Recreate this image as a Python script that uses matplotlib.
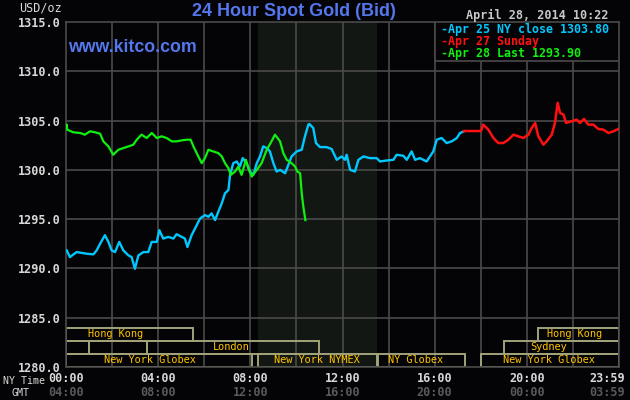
import matplotlib
matplotlib.use('Agg')
import matplotlib.pyplot as plt
from matplotlib.patches import Rectangle
import matplotlib.transforms as mtransforms

# ---------------- data ----------------
# Apr 25 (NY close 1303.80) - hours since 00:00 NY time and price
apr25_hours = [0.03, 0.17, 0.46, 0.90, 1.19, 1.33, 1.48, 1.69, 1.84, 1.98, 2.13, 2.31, 2.49,
               2.71, 2.85, 2.99, 3.14, 3.36, 3.57, 3.72, 3.94, 4.05, 4.22, 4.44, 4.66, 4.80,
               5.02, 5.16, 5.27, 5.45, 5.60, 5.82, 6.03, 6.18, 6.32, 6.47, 6.61, 6.76, 6.90,
               7.05, 7.12, 7.26, 7.41, 7.55, 7.67, 7.84, 7.99, 8.13, 8.28, 8.42, 8.56, 8.71,
               8.85, 9.00, 9.14, 9.29, 9.51, 9.65, 9.79, 10.01, 10.23, 10.37, 10.52, 10.56,
               10.73, 10.85, 11.02, 11.31, 11.53, 11.75, 11.96, 12.11, 12.18, 12.33, 12.54,
               12.69, 12.91, 13.19, 13.48, 13.63, 13.92, 14.21, 14.35, 14.64, 14.79, 15.00,
               15.15, 15.36, 15.65, 15.94, 16.09, 16.30, 16.52, 16.74, 16.96, 17.10, 17.27]
apr25_price = [1291.83, 1291.15, 1291.66, 1291.49, 1291.43, 1291.83, 1292.51, 1293.37, 1292.69,
               1291.83, 1291.66, 1292.69, 1291.83, 1291.32, 1291.15, 1289.96, 1291.32, 1291.66,
               1291.66, 1292.69, 1292.69, 1293.88, 1293.03, 1293.20, 1293.03, 1293.47, 1293.20,
               1293.03, 1292.17, 1293.37, 1294.05, 1295.07, 1295.41, 1295.24, 1295.58, 1294.90,
               1295.75, 1296.60, 1297.62, 1297.96, 1299.49, 1300.68, 1300.85, 1300.34, 1301.19,
               1300.68, 1299.83, 1299.49, 1300.68, 1301.36, 1302.38, 1302.21, 1301.87, 1300.68,
               1299.83, 1300.00, 1299.66, 1300.51, 1301.36, 1301.87, 1302.04, 1303.40, 1304.59,
               1304.66, 1304.25, 1302.72, 1302.31, 1302.31, 1302.11, 1301.02, 1301.36, 1301.02,
               1301.53, 1300.00, 1299.83, 1301.02, 1301.36, 1301.19, 1301.19, 1300.85, 1300.95,
               1301.02, 1301.53, 1301.43, 1301.02, 1301.87, 1301.02, 1301.19, 1300.85, 1301.87,
               1303.06, 1303.23, 1302.72, 1302.89, 1303.23, 1303.74, 1303.91]

# Apr 27 (Sunday)
apr27_hours = [17.27, 18.01, 18.11, 18.33, 18.55, 18.76, 18.98, 19.20, 19.42, 19.63, 19.85,
               20.07, 20.21, 20.36, 20.50, 20.72, 20.86, 21.08, 21.22, 21.34, 21.44, 21.59,
               21.70, 21.95, 22.16, 22.31, 22.48, 22.67, 22.89, 23.10, 23.32, 23.54, 23.76, 23.97]
apr27_price = [1303.94, 1303.94, 1304.59, 1304.08, 1303.23, 1302.72, 1302.72, 1303.06, 1303.57,
               1303.40, 1303.23, 1303.57, 1304.25, 1304.76, 1303.40, 1302.55, 1302.89, 1303.57,
               1304.76, 1306.80, 1305.78, 1305.61, 1304.76, 1304.93, 1305.10, 1304.76, 1305.17,
               1304.59, 1304.59, 1304.15, 1304.08, 1303.74, 1303.91, 1304.15]

# Apr 28 (Last 1293.90)
apr28_hours = [0.00, 0.03, 0.05, 0.32, 0.61, 0.82, 1.04, 1.26, 1.48, 1.62, 1.84, 2.05, 2.27,
               2.49, 2.71, 2.92, 3.07, 3.28, 3.50, 3.72, 3.94, 4.15, 4.37, 4.59, 4.80, 5.02,
               5.24, 5.41, 5.53, 5.67, 5.89, 6.03, 6.18, 6.39, 6.61, 6.76, 6.90, 7.05, 7.15,
               7.34, 7.48, 7.62, 7.81, 7.91, 8.06, 8.28, 8.49, 8.71, 8.88, 9.07, 9.29, 9.43,
               9.58, 9.79, 9.94, 10.04, 10.16, 10.23, 10.30, 10.39]
apr28_price = [1304.2, 1304.59, 1304.08, 1303.81, 1303.74, 1303.57, 1303.91, 1303.81, 1303.67,
               1302.89, 1302.38, 1301.53, 1302.04, 1302.21, 1302.38, 1302.55, 1303.06, 1303.57,
               1303.23, 1303.74, 1303.23, 1303.40, 1303.23, 1302.89, 1302.89, 1302.99, 1303.06,
               1303.06, 1302.38, 1301.70, 1300.68, 1301.19, 1302.04, 1301.87, 1301.70, 1301.36,
               1300.68, 1300.17, 1299.49, 1299.83, 1300.34, 1299.49, 1301.02, 1300.17, 1299.32,
               1300.00, 1300.68, 1302.04, 1302.72, 1303.57, 1302.89, 1301.70, 1301.02, 1300.68,
               1300.34, 1299.83, 1299.66, 1297.62, 1296.26, 1294.90]

series_labels = ["Apr 25 NY close 1303.80", "Apr 27 Sunday", "Apr 28 Last 1293.90"]

# market sessions: (row, start hour, end hour, label, label centre hour)
market_rows = [0, 0, 1, 1, 1, 1, 2, 2, 2, 2]
market_start = [0.0, 20.5, 0.0, 1.0, 3.5, 19.0, 0.0, 8.33, 13.55, 18.0]
market_end = [5.5, 24.0, 1.0, 3.5, 11.0, 24.0, 8.08, 13.5, 17.3, 24.0]
market_names = ["Hong Kong", "Hong Kong", "", "", "London", "Sydney",
                "New York Globex", "New York NYMEX", "NY Globex", "New York Globex"]
market_label_at = [2.15, 22.05, 0.5, 2.25, 7.18, 20.96, 3.65, 10.9, 15.19, 20.96]

nymex_hours = (8.33, 13.5)

y_ticks = [1280, 1285, 1290, 1295, 1300, 1305, 1310, 1315]
ny_tick_hours = [0, 4, 8, 12, 16, 20, 23.5]
ny_tick_labels = ["00:00", "04:00", "08:00", "12:00", "16:00", "20:00", "23:59"]
gmt_tick_labels = ["04:00", "08:00", "12:00", "16:00", "20:00", "00:00", "03:59"]

# ---------------- style ----------------
BG = '#040406'
GRID = '#4a4a4a'
MONO = 'DejaVu Sans Mono'
SANS = 'Liberation Sans'
W, H = 630, 400
L, R, T, B = 66, 619, 22, 367

fig = plt.figure(figsize=(W / 100, H / 100), dpi=100, facecolor=BG)
ax = fig.add_axes([L / W, 1 - B / H, (R - L) / W, (B - T) / H])
ax.set_facecolor(BG)
ax.set_xlim(0, 24)
ax.set_ylim(1280, 1315)

ax.axvspan(nymex_hours[0], nymex_hours[1], color='#131714', zorder=0, lw=0)
for h in range(2, 24, 2):
    ax.axvline(h, color=GRID, lw=1.2, zorder=1)
for v in y_ticks[1:-1]:
    ax.axhline(v, color=GRID, lw=1.2, zorder=1)
for s in ax.spines.values():
    s.set_color(GRID)
    s.set_linewidth(1.2)

ax.plot(apr25_hours, apr25_price, color='#00C8FF', lw=1.7, zorder=3)
ax.plot(apr27_hours, apr27_price, color='#FF1010', lw=1.8, zorder=3)
ax.plot(apr28_hours, apr28_price, color='#10F010', lw=1.6, zorder=4)

# market boxes
row_h = 13 / 9.84
row_base = {0: 1280 + 2 * row_h, 1: 1280 + row_h, 2: 1280}
for r, s, e, name, c in zip(market_rows, market_start, market_end, market_names, market_label_at):
    y0 = row_base[r]
    ax.add_patch(Rectangle((s, y0), e - s, row_h, fill=False, edgecolor='#a3a37a',
                           lw=1.4, zorder=2))
    if name:
        ax.text(c, y0 + row_h / 2, name, ha='center', va='center', color='#FFC400',
                fontsize=7.4, family=MONO, zorder=5)

# y ticks
ax.set_yticks(y_ticks)
ax.set_yticklabels([f"{v:.1f}" for v in y_ticks], family=MONO, fontweight='bold',
                   fontsize=8.5, color='#d8d8d8')
ax.tick_params(axis='y', length=0, pad=4)
ax.set_xticks([])

# x labels
trans = mtransforms.blended_transform_factory(ax.transData, fig.transFigure)
for h, lab, g in zip(ny_tick_hours, ny_tick_labels, gmt_tick_labels):
    ax.text(h, 1 - 379 / H, lab, transform=trans, ha='center', va='center', family=MONO,
            fontweight='bold', fontsize=8.5, color='#d8d8d8')
    ax.text(h, 1 - 393 / H, g, transform=trans, ha='center', va='center', family=MONO,
            fontweight='bold', fontsize=8.5, color='#5a5a5a')
fig.text(45 / W, 1 - 381 / H, "NY Time", ha='right', va='center', family=MONO,
         fontsize=7.2, color='#d8d8d8')
fig.text(21 / W, 1 - 393 / H, "GMT", ha='center', va='center', family=MONO,
         fontsize=7.2, color='#d8d8d8')
fig.text(41 / W, 1 - 8 / H, "USD/oz", ha='center', va='center', family=MONO,
         fontsize=8.5, color='#d8d8d8')

# title and site
fig.text(294 / W, 1 - 12 / H, "24 Hour Spot Gold (Bid)", ha='center', va='center',
         family=SANS, fontweight='bold', fontsize=13, color='#5577EE')
fig.text(68 / W, 1 - 48 / H, "www.kitco.com", ha='left', va='center',
         family=SANS, fontweight='bold', fontsize=12.8, color='#5577EE')
fig.text(608 / W, 1 - 15 / H, "April 28, 2014 10:22", ha='right', va='center',
         family=MONO, fontweight='bold', fontsize=8.5, color='#c8c8c8')

# legend box
ax.add_patch(Rectangle((16, 1311.0), 8, 4.0, facecolor=BG, edgecolor=GRID, lw=1.2,
                       zorder=6))
for i, (lab, col) in enumerate(zip(series_labels, ['#00C8FF', '#FF1010', '#10F010'])):
    fig.text(441 / W, 1 - (29.3 + 12.3 * i) / H, "-" + lab, ha='left', va='center',
             family=MONO, fontweight='bold', fontsize=8.4, color=col, zorder=7)

fig.savefig('out.png', dpi=100, facecolor=BG)
